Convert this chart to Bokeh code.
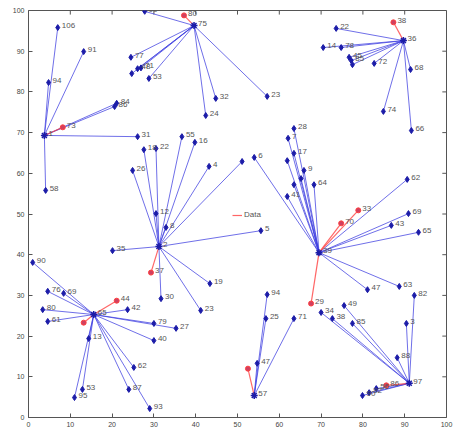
from bokeh.plotting import figure
from bokeh.models import ColumnDataSource, FixedTicker, Range1d, Legend, LegendItem
from bokeh.embed import file_html
from bokeh.resources import INLINE

# cluster centres
center_x = [3.8, 39.6, 89.7, 31.2, 15.6, 69.5, 54.0, 91.1]
center_y = [69.3, 96.3, 92.6, 42.0, 25.3, 40.5, 5.4, 8.4]
center_label = ["1", "75", "36", "2", "65", "39", "57", "97"]

# member points
pt_x = [7.0, 4.8, 13.2, 21.1, 20.6, 26.1, 4.1, 8.2,
        27.8, 37.2, 24.5, 26.9, 26.1, 24.7, 28.8, 44.8, 42.4, 57.1,
        87.3, 73.6, 70.5, 74.8, 76.7, 77.2, 77.5, 82.7, 91.4, 84.9, 91.6,
        27.6, 30.5, 36.7, 39.8, 43.2, 51.1, 24.9, 30.5, 32.9, 55.6, 20.1, 29.3, 31.7, 43.4, 41.2,
        1.0, 4.6, 8.4, 3.4, 4.6, 21.1, 23.7, 30.0, 35.3, 30.0, 14.4, 25.2, 12.9, 11.0, 24.0, 29.0, 13.2,
        63.5, 62.1, 63.5, 65.9, 61.9, 68.3, 63.5, 61.9, 65.2, 54.0, 90.6, 78.9, 74.8, 90.9, 86.8, 93.3, 81.1, 88.7, 67.6,
        57.1, 56.8, 54.7, 52.5, 63.5,
        92.3, 90.4, 88.2, 85.6, 83.2, 81.5, 79.9, 72.7, 77.5, 70.0, 75.5]
pt_y = [95.8, 82.3, 89.9, 77.2, 76.4, 69.0, 55.8, 71.3,
        99.8, 98.8, 88.5, 85.9, 85.7, 84.5, 83.3, 78.4, 74.2, 78.9,
        97.1, 95.6, 90.9, 90.9, 88.5, 87.7, 86.7, 87.0, 85.5, 75.2, 70.5,
        65.8, 66.1, 69.0, 67.6, 61.7, 62.9, 60.7, 50.1, 46.7, 45.9, 41.0, 35.6, 29.2, 32.9, 26.3,
        38.1, 31.0, 30.5, 26.5, 23.6, 28.7, 26.5, 23.1, 21.9, 18.9, 19.4, 12.3, 6.9, 4.9, 6.9, 2.2, 23.3,
        71.0, 68.6, 64.9, 60.7, 63.1, 57.2, 57.2, 54.3, 58.7, 63.9, 58.5, 50.9, 47.7, 50.1, 47.2, 45.5, 31.4, 32.2, 28.0,
        30.2, 24.3, 13.3, 12.0, 24.3,
        30.0, 23.1, 14.7, 7.9, 7.1, 6.1, 5.4, 24.3, 23.1, 25.8, 27.5]
pt_label = ["106", "94", "91", "84", "86", "31", "58", "73",
            "99", "80", "77", "71", "48", "", "53", "32", "24", "23",
            "38", "22", "14", "78", "45", "85", "", "72", "68", "74", "66",
            "18", "22", "55", "16", "4", "", "26", "12", "8", "5", "35", "37", "30", "19", "23",
            "90", "76", "69", "80", "61", "44", "42", "79", "27", "40", "13", "62", "53", "95", "87", "93", "",
            "28", "7", "17", "9", "", "64", "", "41", "", "6", "62", "33", "70", "69", "43", "65", "47", "63", "29",
            "94", "25", "47", "", "71",
            "82", "3", "88", "86", "56", "92", "90", "38", "85", "34", "49"]
pt_cluster = [0] * 8 + [1] * 10 + [2] * 11 + [3] * 15 + [4] * 17 + [5] * 19 + [6] * 5 + [7] * 11
pt_red = [0, 0, 0, 0, 0, 0, 0, 1,
          0, 1, 0, 0, 0, 0, 0, 0, 0, 0,
          1, 0, 0, 0, 0, 0, 0, 0, 0, 0, 0,
          0, 0, 0, 0, 0, 0, 0, 0, 0, 0, 0, 1, 0, 0, 0,
          0, 0, 0, 0, 0, 1, 0, 0, 0, 0, 0, 0, 0, 0, 0, 0, 1,
          0, 0, 0, 0, 0, 0, 0, 0, 0, 0, 0, 1, 1, 0, 0, 0, 0, 0, 1,
          0, 0, 0, 1, 0,
          0, 0, 0, 1, 0, 0, 0, 0, 0, 0, 0]

x_ticks = [0, 10, 20, 30, 40, 50, 60, 70, 80, 90, 100]
y_ticks = [0, 10, 20, 30, 40, 50, 60, 70, 80, 90, 100]

BLUE_LINE = "#3f3fe0"
BLUE_PT = "#1c1ca8"
RED = "#ff4040"
AX = "#555555"
FONT = "Liberation Sans"

p = figure(width=457, height=434, output_backend="svg", toolbar_location=None,
           x_range=Range1d(0, 100), y_range=Range1d(0, 100),
           min_border_left=28, min_border_right=11, min_border_top=10, min_border_bottom=17)
p.background_fill_color = "white"
p.border_fill_color = "white"
p.outline_line_color = AX
p.grid.visible = False

for ax in p.xaxis + p.yaxis:
    ax.axis_line_color = None
    ax.major_tick_in = 4
    ax.major_tick_out = 0
    ax.minor_tick_line_color = None
    ax.major_tick_line_color = AX
    ax.major_label_text_font = FONT
    ax.major_label_text_font_size = "7px"
    ax.major_label_text_color = "#444444"
    ax.major_label_standoff = 4
p.xaxis.ticker = FixedTicker(ticks=x_ticks)
p.yaxis.ticker = FixedTicker(ticks=y_ticks)

# inward ticks on the top and right edges of the box
p.segment(x0=x_ticks, y0=[100] * len(x_ticks), x1=x_ticks, y1=[99] * len(x_ticks), line_color=AX, line_width=1)
p.segment(x0=[100] * len(y_ticks), y0=y_ticks, x1=[99] * len(y_ticks), y1=y_ticks, line_color=AX, line_width=1)

# segments centre -> point
x0 = [center_x[c] for c in pt_cluster]
y0 = [center_y[c] for c in pt_cluster]
blue_idx = [i for i in range(len(pt_x)) if not pt_red[i]]
red_idx = [i for i in range(len(pt_x)) if pt_red[i]]

seg_blue = ColumnDataSource(dict(x0=[x0[i] for i in blue_idx], y0=[y0[i] for i in blue_idx],
                                 x1=[pt_x[i] for i in blue_idx], y1=[pt_y[i] for i in blue_idx]))
seg_red = ColumnDataSource(dict(x0=[x0[i] for i in red_idx], y0=[y0[i] for i in red_idx],
                                x1=[pt_x[i] for i in red_idx], y1=[pt_y[i] for i in red_idx]))
p.segment("x0", "y0", "x1", "y1", source=seg_blue, line_color=BLUE_LINE, line_width=1, line_alpha=0.75)
red_seg_r = p.segment("x0", "y0", "x1", "y1", source=seg_red, line_color=RED, line_width=1.2, line_alpha=0.8)

pts_blue = ColumnDataSource(dict(x=[pt_x[i] for i in blue_idx], y=[pt_y[i] for i in blue_idx]))
pts_red = ColumnDataSource(dict(x=[pt_x[i] for i in red_idx], y=[pt_y[i] for i in red_idx]))
cen = ColumnDataSource(dict(x=center_x, y=center_y))

p.scatter("x", "y", source=pts_blue, marker="diamond", size=6, fill_color=BLUE_PT, line_color=BLUE_PT)
p.scatter("x", "y", source=pts_red, marker="circle", size=5, fill_color="#d04060", line_color=RED)
p.scatter("x", "y", source=cen, marker="asterisk", size=7, line_color=BLUE_PT, line_width=1.5)

lab_idx = [i for i in range(len(pt_x)) if pt_label[i]]
labels = ColumnDataSource(dict(x=[pt_x[i] for i in lab_idx] + center_x,
                               y=[pt_y[i] for i in lab_idx] + center_y,
                               lbl=[pt_label[i] for i in lab_idx] + center_label))
p.text("x", "y", text="lbl", source=labels, text_font_size="8px", text_color="#555555",
       x_offset=4, y_offset=-2, text_baseline="middle")

leg = Legend(items=[LegendItem(label="Data", renderers=[red_seg_r])], location=(204, 198),
             background_fill_alpha=0, border_line_color=None, label_text_font_size="8px",
             label_text_color="#555555", glyph_width=10, glyph_height=6, padding=0, margin=0,
             label_standoff=2, spacing=0)
p.add_layout(leg, "center")

open("out.html", "w").write(file_html(p, INLINE))
